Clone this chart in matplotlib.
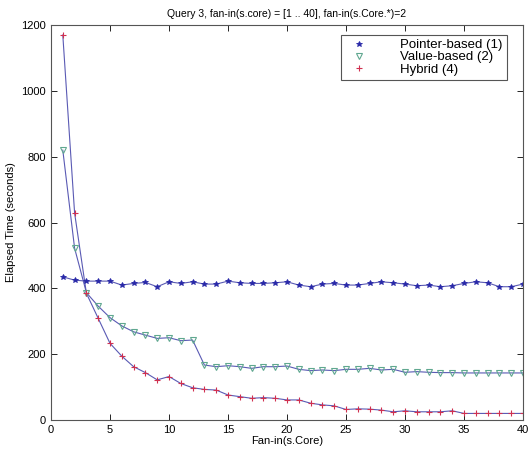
import matplotlib.pyplot as plt

plt.rcParams['font.family'] = ['Liberation Sans', 'DejaVu Sans']

fan_in = list(range(1, 41))

pointer = [435, 425, 422, 422, 422, 410, 415, 418, 405, 420,
           415, 420, 413, 413, 422, 417, 415, 415, 417, 420,
           410, 405, 413, 415, 410, 410, 415, 420, 417, 413,
           408, 410, 405, 408, 415, 420, 417, 405, 405, 413]
value = [820, 522, 387, 346, 311, 286, 268, 258, 248, 250,
         241, 243, 167, 162, 165, 162, 157, 162, 162, 164,
         154, 150, 152, 150, 154, 154, 157, 152, 154, 145,
         147, 145, 144, 144, 143, 143, 143, 143, 143, 143]
hybrid = [1170, 629, 385, 309, 233, 194, 162, 144, 122, 132,
          111, 98, 93, 91, 76, 71, 66, 68, 66, 61,
          61, 51, 46, 43, 32, 34, 33, 30, 25, 28,
          25, 25, 25, 28, 20, 20, 20, 20, 20, 20]

labels = ['Pointer-based (1)', 'Value-based (2)', 'Hybrid (4)']

fig = plt.figure(figsize=(5.29, 4.55), dpi=100)
ax = fig.add_axes([0.0964, 0.0769, 0.8923, 0.868])

line_color = '#5a5ab4'
# connecting lines (all drawn in the same blue, matlab style)
for ys in (pointer, value, hybrid):
    ax.plot(fan_in, ys, '-', color=line_color, lw=0.8, zorder=1)

# markers
h1, = ax.plot(fan_in, pointer, '*', ls='none', color='#2828a8', ms=4, mew=0.6, zorder=2)
h2, = ax.plot(fan_in, value, 'v', ls='none', mfc='none', mec='#60a890', ms=4.5, mew=0.8, zorder=2)
h3, = ax.plot(fan_in, hybrid, '+', ls='none', color='#d03050', ms=5, mew=0.8, zorder=2)

ax.set_xlim(0, 40)
ax.set_ylim(0, 1200)
ax.set_xticks(range(0, 41, 5))
ax.set_yticks(range(0, 1201, 200))
ax.tick_params(direction='in', top=True, right=True, labelsize=8, length=4, width=0.6)
for s in ax.spines.values():
    s.set_color('#555555')
    s.set_linewidth(0.8)

ax.set_xlabel('Fan-in(s.Core)', fontsize=8, labelpad=1)
ax.set_ylabel('Elapsed Time (seconds)', fontsize=8, labelpad=4)
ax.set_title('Query 3, fan-in(s.core) = [1 .. 40], fan-in(s.Core.*)=2', fontsize=7.5, pad=6)

leg = ax.legend([h1, h2, h3], labels, loc='upper right', bbox_to_anchor=(0.965, 0.975),
                fontsize=9.5, handlelength=2.2, handletextpad=2.0, borderpad=0.3,
                labelspacing=0.0, fancybox=False, framealpha=1, borderaxespad=0)
leg.get_frame().set_edgecolor('#555555')
leg.get_frame().set_linewidth(0.8)

fig.savefig('out.png', dpi=100)
